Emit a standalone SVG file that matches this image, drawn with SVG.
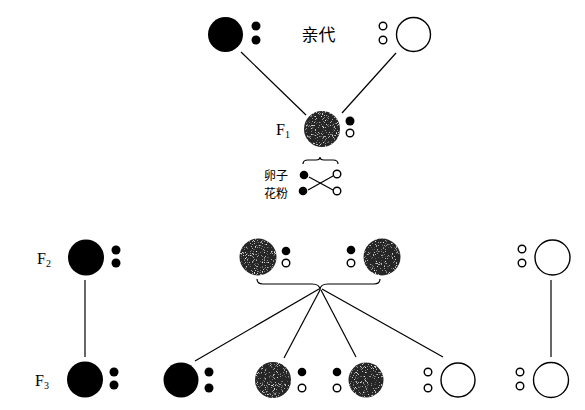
<svg xmlns="http://www.w3.org/2000/svg" width="585" height="410" viewBox="0 0 585 410">
<defs>
<style>
.blk{fill:#000}
.wht{fill:#fff;stroke:#000;stroke-width:1.4}
.gry{fill:#262626;filter:url(#speck)}
.ln{stroke:#000;stroke-width:1.2;fill:none}
.t{font-family:"Liberation Serif",serif;fill:#000}
.c{font-family:"Noto Sans CJK SC","Noto Sans CJK TC",sans-serif;fill:#000}
</style>
<filter id="speck" x="-10%" y="-10%" width="120%" height="120%">
<feTurbulence type="fractalNoise" baseFrequency="0.9" numOctaves="2" seed="7" result="noise"/>
<feColorMatrix in="noise" type="matrix" values="0 0 0 0 0.85  0 0 0 0 0.85  0 0 0 0 0.85  5 0 0 0 -3.0" result="spots"/>
<feComposite in="spots" in2="SourceGraphic" operator="in" result="clipped"/>
<feMerge><feMergeNode in="SourceGraphic"/><feMergeNode in="clipped"/></feMerge>
</filter>
</defs>
<rect width="585" height="410" fill="#fff"/>

<g id="connectors">
<line class="ln" x1="241" y1="52" x2="306" y2="115"/>
<line class="ln" x1="396" y1="53" x2="342" y2="113"/>
<line class="ln" x1="309" y1="177" x2="333" y2="190"/>
<line class="ln" x1="308" y1="190" x2="333" y2="176"/>
<path class="ln" d="M303,164 Q303,160 308,160 L316,160 Q320,160 320,157 Q320,160 324,160 L333,160 Q338,160 338,164"/>
<path class="ln" d="M257,279 Q257,284 263,284 L312,284 Q320,284 320,290 Q320,284 328,284 L374,284 Q380,284 380,279"/>
<line class="ln" x1="85" y1="280" x2="85" y2="357"/>
<line class="ln" x1="551" y1="280" x2="551" y2="357"/>
<line class="ln" x1="319" y1="289" x2="195" y2="361"/>
<line class="ln" x1="320" y1="290" x2="284" y2="358"/>
<line class="ln" x1="321" y1="290" x2="356" y2="357"/>
<line class="ln" x1="322" y1="289" x2="443" y2="357"/>
</g>

<g id="p-black">
<circle class="blk" cx="225.5" cy="34.5" r="17.5"/>
<circle class="blk" cx="256" cy="26" r="4.5"/>
<circle class="blk" cx="256" cy="40" r="4.5"/>
</g>
<g id="label-parent">
<text class="c" x="318.5" y="41" font-size="17" text-anchor="middle">亲代</text>
</g>
<g id="p-white">
<circle class="wht" cx="413.5" cy="34.5" r="17"/>
<circle class="wht" cx="383" cy="26" r="3.8"/>
<circle class="wht" cx="383" cy="40" r="3.8"/>
</g>

<g id="f1">
<text class="t" x="276" y="135" font-size="16">F<tspan font-size="10" dy="3">1</tspan></text>
<circle class="gry" cx="322" cy="129" r="18"/>
<circle class="blk" cx="350" cy="121" r="4.5"/>
<circle class="wht" cx="350" cy="133" r="3.8"/>
</g>

<g id="gametes">
<text class="c" x="264" y="180" font-size="12">卵子</text>
<text class="c" x="264" y="198" font-size="12">花粉</text>
<circle class="blk" cx="304" cy="175" r="4.3"/>
<circle class="blk" cx="303" cy="191" r="4.3"/>
<circle class="wht" cx="337" cy="174" r="3.8"/>
<circle class="wht" cx="337" cy="191" r="3.8"/>
</g>

<g id="f2-black">
<text class="t" x="37" y="264" font-size="16">F<tspan font-size="10" dy="3">2</tspan></text>
<circle class="blk" cx="86" cy="257.5" r="18"/>
<circle class="blk" cx="116" cy="250" r="4.5"/>
<circle class="blk" cx="116" cy="263" r="4.5"/>
</g>
<g id="f2-gray1">
<circle class="gry" cx="258" cy="257" r="18.5"/>
<circle class="blk" cx="286" cy="251" r="4.3"/>
<circle class="wht" cx="286" cy="263" r="3.8"/>
</g>
<g id="f2-gray2">
<circle class="gry" cx="382" cy="257" r="18.5"/>
<circle class="blk" cx="351" cy="250" r="4.3"/>
<circle class="wht" cx="351" cy="263" r="3.8"/>
</g>
<g id="f2-white">
<circle class="wht" cx="552.5" cy="257.5" r="17.5"/>
<circle class="wht" cx="522" cy="249" r="3.8"/>
<circle class="wht" cx="522" cy="263" r="3.8"/>
</g>

<g id="f3-black1">
<text class="t" x="35" y="386" font-size="16">F<tspan font-size="10" dy="3">3</tspan></text>
<circle class="blk" cx="85" cy="379.5" r="18"/>
<circle class="blk" cx="114" cy="372" r="4.5"/>
<circle class="blk" cx="114" cy="385" r="4.5"/>
</g>
<g id="f3-black2">
<circle class="blk" cx="181" cy="380" r="17.5"/>
<circle class="blk" cx="209" cy="372" r="4.5"/>
<circle class="blk" cx="209" cy="388" r="4.5"/>
</g>
<g id="f3-gray1">
<circle class="gry" cx="273" cy="380" r="18"/>
<circle class="blk" cx="302" cy="372" r="4.3"/>
<circle class="wht" cx="302" cy="388" r="3.8"/>
</g>
<g id="f3-gray2">
<circle class="gry" cx="366" cy="380" r="17.5"/>
<circle class="blk" cx="337" cy="372" r="4.3"/>
<circle class="wht" cx="337" cy="388" r="3.8"/>
</g>
<g id="f3-white1">
<circle class="wht" cx="458" cy="380" r="17"/>
<circle class="wht" cx="428" cy="372" r="3.8"/>
<circle class="wht" cx="428" cy="388" r="3.8"/>
</g>
<g id="f3-white2">
<circle class="wht" cx="551" cy="380" r="17.5"/>
<circle class="wht" cx="520" cy="372" r="3.8"/>
<circle class="wht" cx="520" cy="386" r="3.8"/>
</g>
</svg>
